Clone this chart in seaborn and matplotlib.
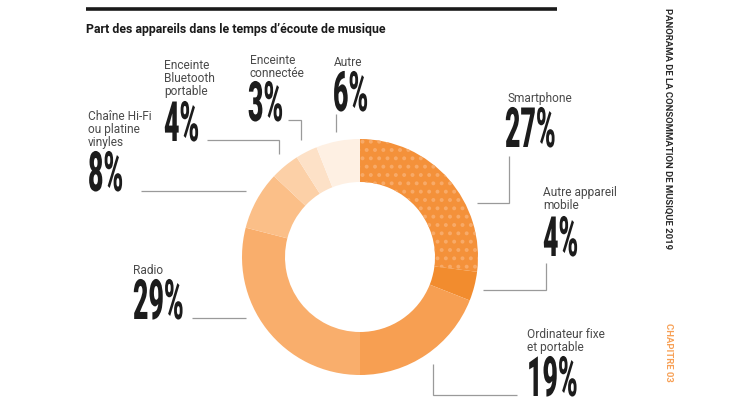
import matplotlib
matplotlib.use("Agg")
import matplotlib.pyplot as plt
import seaborn as sns
from matplotlib.patheffects import AbstractPathEffect
from matplotlib.transforms import Affine2D

# ---------------- data ----------------
categories = ["Smartphone", "Autre appareil\nmobile", "Ordinateur fixe\net portable",
              "Radio", "Chaîne Hi-Fi\nou platine\nvinyles", "Enceinte\nBluetooth\nportable",
              "Enceinte\nconnectée", "Autre"]
values = [27, 4, 19, 29, 8, 4, 3, 6]
value_labels = ["27%", "4%", "19%", "29%", "8%", "4%", "3%", "6%"]
colors = ["#F4913A", "#F28C2E", "#F79F52", "#F9AE6C", "#FBBF88", "#FCD0A7", "#FDE1C7", "#FEF0E3"]
dot_color = "#F8AA68"
title = "Part des appareils dans le temps d’écoute de musique"
side_title = "PANORAMA DE LA CONSOMMATION DE MUSIQUE 2019"
chapter = "CHAPITRE 03"

# ---------------- layout (pixels, y from top; label y = baseline of last line) ----------------
label_pos = [(507, 102), (543, 209), (527, 351), (133, 274), (88, 146), (164, 95), (250, 77), (334, 66)]
number_pos = [(505, 148), (543, 257), (527, 397), (133, 320), (88, 192), (164, 142), (248, 122), (333, 112)]
leaders = [
    [(477, 204), (509, 204), (509, 157)],
    [(483, 291), (546, 291), (546, 264)],
    [(433, 365), (433, 396), (517, 396)],
    [(192, 319), (246, 319)],
    [(141, 192), (246, 192)],
    [(207, 141), (279, 141), (279, 155)],
    [(288, 121), (301, 121), (301, 141)],
    [(336, 115), (336, 133)],
]


class Condense(AbstractPathEffect):
    """Draw text glyphs horizontally compressed (condensed typeface look)."""
    def __init__(self, sx):
        super().__init__()
        self._sx = sx

    def draw_path(self, renderer, gc, tpath, affine, rgbFace=None):
        renderer.draw_path(gc, tpath, Affine2D().scale(self._sx, 1.0) + affine, rgbFace)


sns.set_theme(style="white")
plt.rcParams["font.family"] = ["Roboto", "DejaVu Sans"]
plt.rcParams["hatch.linewidth"] = 1.6

palette = sns.color_palette(colors)

fig = plt.figure(figsize=(7.5, 4.1), dpi=100)
ax = fig.add_axes([0, 0, 1, 1])

wedges, _ = ax.pie(values, colors=palette, startangle=-90, counterclock=True,
                   center=(360, 258), radius=118,
                   wedgeprops=dict(width=43, linewidth=0))
w0 = wedges[0]
w0.set_hatch("..")
w0.set_edgecolor(dot_color)
w0.set_linewidth(0)
if hasattr(w0, "set_hatchcolor"):
    w0.set_hatchcolor(dot_color)

ax.set_xlim(0, 750)
ax.set_ylim(410, 0)
ax.set_aspect("equal")
ax.axis("off")

# top rule + title
ax.plot([86, 557], [10, 10], color="#1a1a1a", lw=2.6, solid_capstyle="butt")
ax.text(86, 30, title, fontsize=8.9, fontweight="bold", color="#1a1a1a",
        ha="left", va="center")

# side texts
ax.text(668, 8, side_title, rotation=-90, fontsize=6.8, fontweight="bold",
        color="#2a2a2a", ha="center", va="top")
ax.text(668, 323, chapter, rotation=-90, fontsize=6.8, fontweight="bold",
        color="#F7A055", ha="center", va="top")

# labels, numbers, leaders
for cat, val, (lx, ly), (nx, ny), pts in zip(categories, value_labels, label_pos, number_pos, leaders):
    ax.text(lx, ly, cat, fontsize=8.6, color="#4a4a4a", ha="left", va="baseline",
            linespacing=1.02)
    ax.text(nx, ny, val, fontsize=40, fontweight=900, color="#1c1c1c",
            ha="left", va="baseline", path_effects=[Condense(0.48)])
    xs = [p[0] for p in pts]
    ys = [p[1] for p in pts]
    ax.plot(xs, ys, color="#9a9a9a", lw=0.9, solid_joinstyle="miter", solid_capstyle="butt")

fig.savefig("out.png", dpi=100, facecolor="white")
